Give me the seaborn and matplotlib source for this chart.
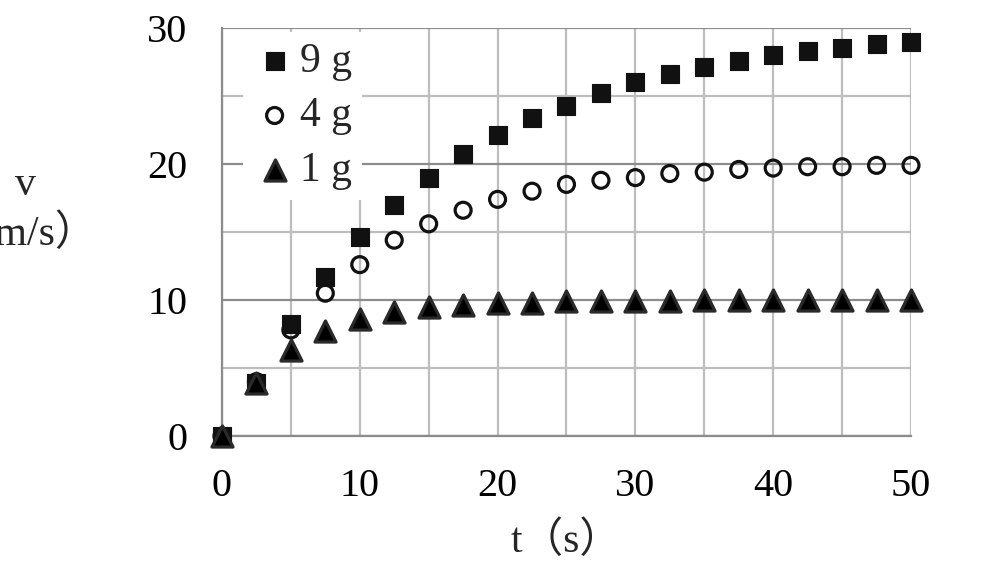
import numpy as np
import pandas as pd
import matplotlib
matplotlib.use("Agg")
import matplotlib.pyplot as plt
from matplotlib.ticker import MultipleLocator
import seaborn as sns

# data
t = [0, 2.5, 5, 7.5, 10, 12.5, 15, 17.5, 20, 22.5, 25, 27.5, 30, 32.5, 35,
     37.5, 40, 42.5, 45, 47.5, 50]
v_9g = [0, 3.9, 8.2, 11.7, 14.6, 17.0, 19.0, 20.7, 22.1, 23.4, 24.3, 25.2,
        26.0, 26.6, 27.1, 27.6, 28.0, 28.3, 28.55, 28.8, 29.0]
v_4g = [0, 4.0, 7.8, 10.5, 12.6, 14.4, 15.6, 16.6, 17.4, 18.0, 18.5, 18.8,
        19.0, 19.3, 19.4, 19.6, 19.7, 19.8, 19.8, 19.9, 19.9]
v_1g = [0, 3.9, 6.3, 7.7, 8.6, 9.1, 9.45, 9.6, 9.75, 9.8, 9.9, 9.92, 9.95,
        9.96, 9.97, 9.98, 9.98, 9.99, 9.99, 10.0, 10.0]
labels = ["9 g", "4 g", "1 g"]

sns.set_style("white")
plt.rcParams["font.family"] = ["Liberation Serif", "Noto Sans CJK SC"]

df = pd.DataFrame({
    "t": t * 3,
    "v": v_9g + v_4g + v_1g,
    "mass": [labels[0]] * len(t) + [labels[1]] * len(t) + [labels[2]] * len(t),
})

fig = plt.figure(figsize=(9.9, 5.8), dpi=100)
ax = fig.add_axes([0.2242, 0.2483, 0.696, 0.7034])

styles = {
    "9 g": dict(marker="s", s=150, color="#111111", edgecolor="#111111", linewidth=0.8),
    "4 g": dict(marker="o", s=132, facecolor="none", edgecolor="#111111", linewidth=2.3),
    "1 g": dict(marker="^", s=230, color="#000000", edgecolor="#2a2a2a", linewidth=2.3),
}
for lab in labels:
    sub = df[df["mass"] == lab]
    sns.scatterplot(data=sub, x="t", y="v", ax=ax, label=lab, clip_on=False,
                    zorder=3, **styles[lab])

ax.set_xlim(0, 50)
ax.set_ylim(0, 30)
ax.xaxis.set_major_locator(MultipleLocator(10))
ax.xaxis.set_minor_locator(MultipleLocator(5))
ax.yaxis.set_major_locator(MultipleLocator(10))
ax.yaxis.set_minor_locator(MultipleLocator(5))

ax.grid(True, axis="x", which="both", color="#bdbdbd", linewidth=1.6)
ax.grid(True, axis="y", which="major", color="#8c8c8c", linewidth=1.6)
ax.grid(True, axis="y", which="minor", color="#bdbdbd", linewidth=1.6)
ax.set_axisbelow(True)

for side in ["top", "right"]:
    ax.spines[side].set_visible(False)
for side in ["left", "bottom"]:
    ax.spines[side].set_color("#8c8c8c")
    ax.spines[side].set_linewidth(1.6)

ax.tick_params(axis="both", which="major", direction="out", length=8,
               width=1.6, color="#8c8c8c", labelsize=29, colors="#8c8c8c",
               labelcolor="black")
ax.tick_params(axis="both", which="minor", length=0)
ax.tick_params(axis="x", which="major", pad=15)
ax.tick_params(axis="y", which="major", pad=17)

ax.set_xlabel("t（s）", fontsize=30, labelpad=12)
ax.set_ylabel("")
fig.text(25 / 990, 1 - 210 / 580, "v\n（m/s）", fontsize=30, ha="center",
         va="center", linespacing=1.35)

leg = ax.legend(loc="upper left", bbox_to_anchor=(0.025, 1.0), fontsize=30,
                frameon=True, fancybox=False, handletextpad=0.1,
                handlelength=1.0, borderpad=0.25, labelspacing=0.38,
                borderaxespad=0.1)
leg.get_frame().set_facecolor("white")
leg.get_frame().set_edgecolor("none")
leg.get_frame().set_alpha(1)

fig.savefig("out.png", dpi=100)
